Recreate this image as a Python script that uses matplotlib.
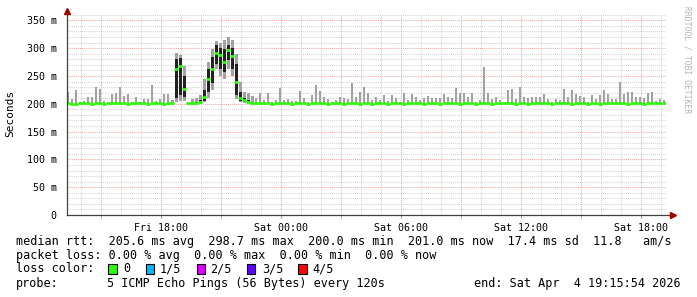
import numpy as np
import matplotlib
matplotlib.use("Agg")
import matplotlib.pyplot as plt
from matplotlib.patches import Rectangle

# ---------------- data ----------------
start_hour = 13 + 15.9 / 60.0      # Fri 13:15:54 (hours since Fri 00:00)
span_hours = 30.0
step_hours = 0.2                    # 12 minute bins

median = [
    200.5, 200, 200, 200.5, 201, 200.5, 200, 201, 200.5, 200,
    200.5, 201, 200.5, 201, 200.5, 200, 200.5, 201, 201, 200.5,
    200, 201, 201, 200.5, 200, 201, 200.5, 262, 268, 226,
    200.5, 201, 202, 204, 212, 245, 262, 292, 288, 276,
    297, 286, 240, 210, 206, 204, 201, 201, 200.5, 201,
    200.5, 200, 201, 200.5, 201, 200.5, 200, 200.5, 201, 200.5,
    200, 201, 200.5, 201, 200.5, 200, 201, 200.5, 201, 200,
    200.5, 201, 200.5, 200, 200.5, 201, 200, 200.5, 201, 200.5,
    200, 200.5, 201, 200.5, 200, 201, 200.5, 201, 200.5, 200,
    200.5, 201, 200.5, 200, 201, 200.5, 201, 200.5, 200, 200.5,
    201, 200.5, 200, 200.5, 201, 200.5, 200, 201, 200.5, 200.5,
    201, 200.5, 200, 201, 200.5, 200, 200.5, 201, 200.5, 201,
    200.5, 200, 200.5, 201, 200.5, 201, 200, 200.5, 201, 200.5,
    200, 201, 200.5, 200, 200.5, 201, 200.5, 201, 201, 200.5,
    200, 200.5, 201, 200.5, 200, 200.5, 201, 200.5, 201, 200.5,
]

ping_max = [
    221, 209, 225, 203, 205, 213, 212, 230, 226, 205,
    203, 217, 219, 230, 214, 217, 203, 212, 204, 208,
    208, 233, 205, 208, 218, 218, 206, 292, 288, 268,
    204, 208, 210, 215, 245, 275, 298, 312, 310, 315,
    320, 315, 290, 240, 222, 220, 214, 210, 219, 207,
    220, 204, 207, 229, 206, 208, 205, 205, 223, 210,
    204, 216, 233, 223, 212, 209, 204, 206, 212, 211,
    209, 237, 212, 221, 231, 219, 207, 212, 207, 216,
    205, 215, 211, 204, 220, 207, 218, 213, 207, 210,
    214, 210, 210, 210, 217, 212, 210, 229, 219, 219,
    212, 220, 204, 206, 267, 219, 208, 213, 207, 204,
    225, 227, 209, 231, 212, 210, 212, 213, 212, 218,
    209, 204, 208, 207, 227, 213, 224, 217, 214, 212,
    204, 215, 209, 215, 225, 218, 209, 209, 239, 218,
    221, 221, 212, 212, 210, 219, 221, 205, 209, 206,
]

# dense (dark) smoke during the evening bump, bins 26..46
bump_first_bin = 26
bump_min = [200.5, 203, 205, 205, 200.5, 201, 201, 202, 203, 210,
            225, 262, 250, 245, 262, 250, 208, 203, 202, 201, 201]
bump_lo = [200.5, 210, 215, 212, 200.5, 201, 202, 203, 205, 222,
           238, 272, 262, 258, 278, 262, 215, 205, 203, 202, 201]
bump_hi = [200.5, 280, 282, 250, 200.5, 201, 204, 207, 225, 262,
           285, 305, 300, 298, 306, 300, 272, 222, 210, 207, 201]

y_ticks = [0, 50, 100, 150, 200, 250, 300, 350]
y_tick_labels = ["0", "50 m", "100 m", "150 m", "200 m", "250 m", "300 m", "350 m"]
x_ticks = [18, 24, 30, 36, 42]
x_tick_labels = ["Fri 18:00", "Sat 00:00", "Sat 06:00", "Sat 12:00", "Sat 18:00"]

legend_lines = [
    "median rtt:  205.6 ms avg  298.7 ms max  200.0 ms min  201.0 ms now  17.4 ms sd  11.8   am/s",
    "packet loss: 0.00 % avg  0.00 % max  0.00 % min  0.00 % now",
]
loss_labels = ["0", "1/5", "2/5", "3/5", "4/5"]
loss_colors = ["#26ff00", "#00b8ff", "#dd00ff", "#5e00ff", "#ff0000"]
probe_text = "5 ICMP Echo Pings (56 Bytes) every 120s"
end_text = "end: Sat Apr  4 19:15:54 2026"

# ---------------- figure ----------------
W, H = 697, 297
fig = plt.figure(figsize=(W / 100, H / 100), dpi=100)
fig.patch.set_facecolor("white")
L, R, B, T = 66.5, 666.0, 215.0, 14.8
ax = fig.add_axes([L / W, 1 - B / H, (R - L) / W, (B - T) / H])
ax.set_xlim(start_hour, start_hour + span_hours)
ax.set_ylim(0, 360)
for s in ax.spines.values():
    s.set_visible(False)

mono = "DejaVu Sans Mono"

# grid
for v in range(10, 361, 10):
    if v % 50 == 0:
        ax.axhline(v, color="#f2a8a8", lw=0.75, ls=(0, (1, 1)), zorder=1)
    else:
        ax.axhline(v, color="#d4d4d4", lw=0.75, ls=(0, (1, 1)), zorder=1)
for h in range(14, 44):
    if h % 3 == 0:
        ax.axvline(h, color="#f2a8a8", lw=0.75, ls=(0, (1, 1)), zorder=1)
    else:
        ax.axvline(h, color="#d4d4d4", lw=0.75, ls=(0, (1, 1)), zorder=1)

n = len(median)
x = start_hour + (np.arange(n) + 0.5) * step_hours
med = np.array(median, dtype=float)
pmax = np.array(ping_max, dtype=float)

# light smoke
base = med - 1.0
bump_idx = np.arange(len(bump_lo)) + bump_first_bin
base[bump_idx] = np.minimum(base[bump_idx], np.array(bump_min))
in_bump = np.zeros(n, dtype=bool)
in_bump[bump_idx] = True
quiet = ~in_bump
ax.bar(x[quiet], (pmax - base)[quiet], bottom=base[quiet],
       width=step_hours * 0.5, color="#a2a2a2", lw=0, zorder=2)
ax.bar(x[in_bump], (pmax - base)[in_bump], bottom=base[in_bump],
       width=step_hours * 0.9, color="#a2a2a2", lw=0, zorder=2)

# dark smoke
blo = np.array(bump_lo, dtype=float)
bhi = np.array(bump_hi, dtype=float)
ax.bar(x[bump_idx], bhi - blo, bottom=blo, width=step_hours * 0.6,
       color="#222222", lw=0, zorder=3)

# median ticks
ax.hlines(med, x - step_hours / 2, x + step_hours / 2,
          color="#22ff00", lw=2.0, zorder=4)

# axes lines & arrows
ax.plot([start_hour, start_hour], [0, 364], color="#404040", lw=0.9,
        clip_on=False, zorder=5)
ax.plot([start_hour, start_hour + span_hours + 0.3], [0, 0], color="#404040",
        lw=0.9, clip_on=False, zorder=5)
ax.plot([start_hour], [366], marker="^", ms=4, color="#a00000",
        clip_on=False, zorder=6)
ax.plot([start_hour + span_hours + 0.35], [0], marker=">", ms=4,
        color="#a00000", clip_on=False, zorder=6)

ax.set_yticks(y_ticks)
ax.set_yticklabels(y_tick_labels, fontfamily=mono, fontsize=7.2)
ax.set_xticks(x_ticks)
ax.set_xticklabels(x_tick_labels, fontfamily=mono, fontsize=7.2)
ax.tick_params(axis="y", length=0, pad=7)
ax.tick_params(axis="x", length=2, pad=4, color="#e08080")
ax.set_xticks(range(15, 44, 3), minor=True)
ax.tick_params(axis="x", which="minor", length=2, color="#e08080")

fig.text(10 / W, 1 - 113 / H, "Seconds", rotation=90, ha="center",
         va="center", fontfamily=mono, fontsize=8)
fig.text(687 / W, 1 - 60 / H, "RRDTOOL / TOBI OETIKER", rotation=-90,
         ha="center", va="center", fontfamily=mono, fontsize=5.8,
         color="#b4b4b4")

# legend
fs = 8.5
rows = [241.3, 255.3, 268.7, 283.7]
for txt, yy in zip(legend_lines, rows[:2]):
    fig.text(16 / W, 1 - yy / H, txt, ha="left", va="center",
             fontfamily=mono, fontsize=fs)
fig.text(16 / W, 1 - rows[2] / H, "loss color:", ha="left", va="center",
         fontfamily=mono, fontsize=fs)
box_x = [108.3, 145.7, 196.7, 246.7, 298.3]
lab_x = [123.0, 159.3, 210.0, 261.7, 312.7]
for bx, lx, lab, col in zip(box_x, lab_x, loss_labels, loss_colors):
    fig.add_artist(Rectangle((bx / W, 1 - 273.5 / H), 8.3 / W, 9.5 / H,
                             transform=fig.transFigure, facecolor=col,
                             edgecolor="black", lw=0.8))
    fig.text(lx / W, 1 - rows[2] / H, lab, ha="left", va="center",
             fontfamily=mono, fontsize=fs)
fig.text(16 / W, 1 - rows[3] / H, "probe:", ha="left", va="center",
         fontfamily=mono, fontsize=fs)
fig.text(107.3 / W, 1 - rows[3] / H, probe_text, ha="left", va="center",
         fontfamily=mono, fontsize=fs)
fig.text(681 / W, 1 - rows[3] / H, end_text, ha="right", va="center",
         fontfamily=mono, fontsize=fs)

fig.savefig("out.png", dpi=100, facecolor="white")
